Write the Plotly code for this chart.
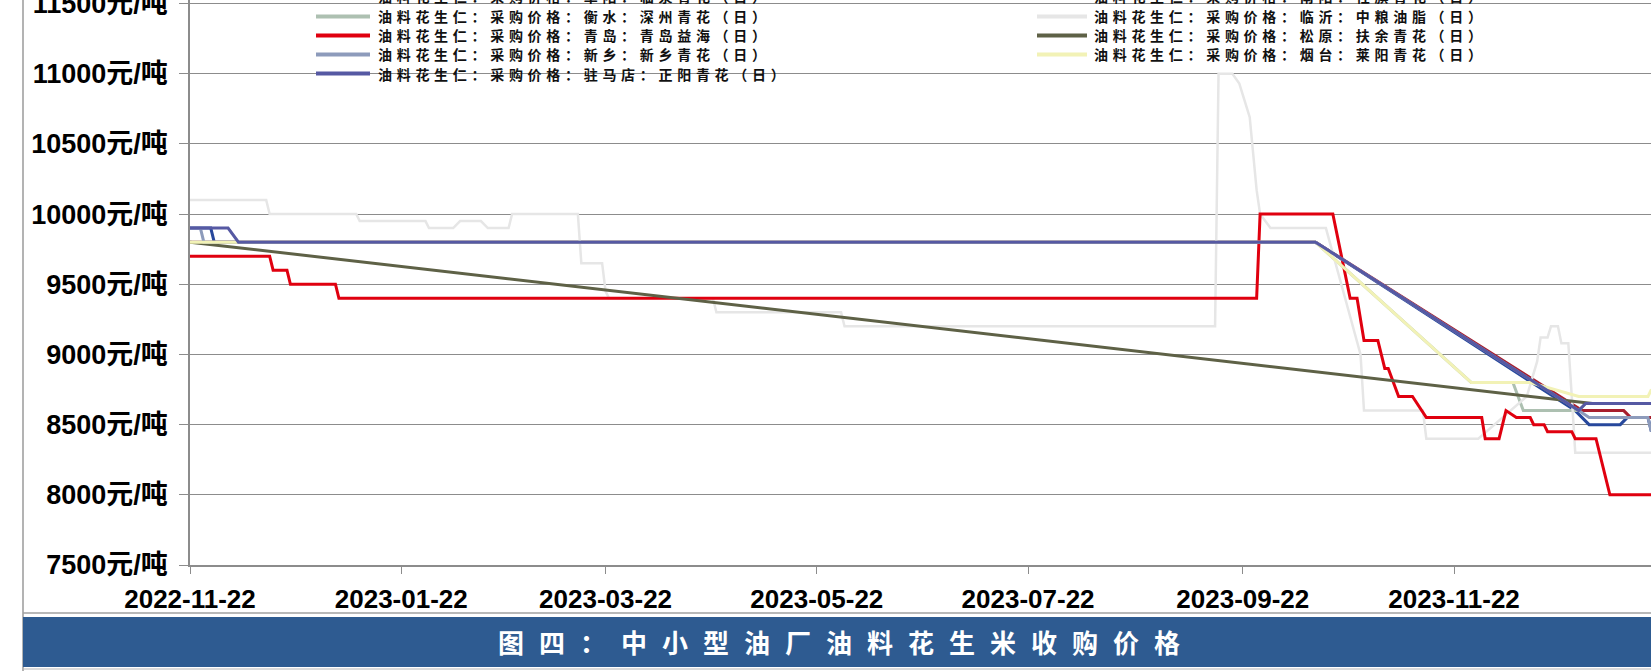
import plotly.graph_objects as go

# ---------------- data ----------------
x_tick_vals = ["2022-11-22", "2023-01-22", "2023-03-22", "2023-05-22",
               "2023-07-22", "2023-09-22", "2023-11-22"]
x_tick_labels = ["2022-11-22", "2023-01-22", "2023-03-22", "2023-05-22",
                 "2023-07-22", "2023-09-22", "2023-11-22"]
y_tick_vals = [7500, 8000, 8500, 9000, 9500, 10000, 10500, 11000, 11500]
y_tick_labels = ["7500元/吨", "8000元/吨", "8500元/吨", "9000元/吨", "9500元/吨",
                 "10000元/吨", "10500元/吨", "11000元/吨", "11500元/吨"]

title_text = "图四：中小型油厂油料花生米收购价格"

# series (legend order, row by row: left, right)
name_a = "油料花生仁：采购价格：阜阳：临泉青花（日）"
dates_a = ["2022-11-22", "2022-11-28", "2022-11-29", "2023-10-13", "2023-12-27",
           "2023-12-31", "2024-01-09", "2024-01-11", "2024-01-17", "2024-01-18"]
vals_a = [9900, 9900, 9800, 9800, 8600, 8500, 8500, 8550, 8550, 8450]

name_b = "油料花生仁：采购价格：南阳：社旗青花（日）"
dates_b = ["2022-11-22", "2023-10-13", "2023-12-29", "2024-01-10", "2024-01-12", "2024-01-18"]
vals_b = [9800, 9800, 8600, 8600, 8550, 8550]

name_hs = "油料花生仁：采购价格：衡水：深州青花（日）"
dates_hs = ["2022-11-22", "2023-10-13", "2023-11-27", "2023-12-09", "2023-12-12",
            "2023-12-28", "2023-12-30", "2024-01-18"]
vals_hs = [9800, 9800, 8800, 8800, 8600, 8600, 8650, 8650]

name_ly = "油料花生仁：采购价格：临沂：中粮油脂（日）"
dates_ly = ["2022-11-22", "2022-12-14", "2022-12-15", "2023-01-09", "2023-01-10",
            "2023-01-29", "2023-01-30", "2023-02-06", "2023-02-08", "2023-02-14",
            "2023-02-16", "2023-02-22", "2023-02-23", "2023-03-14", "2023-03-15",
            "2023-03-21", "2023-03-22", "2023-03-23", "2023-04-22", "2023-04-23",
            "2023-05-29", "2023-05-30", "2023-09-14", "2023-09-15", "2023-09-19",
            "2023-09-21", "2023-09-24", "2023-09-25", "2023-09-26", "2023-09-27",
            "2023-09-30", "2023-10-16", "2023-10-21", "2023-10-26", "2023-10-27",
            "2023-11-13", "2023-11-14", "2023-11-29", "2023-12-13", "2023-12-16",
            "2023-12-17", "2023-12-19", "2023-12-20", "2023-12-22", "2023-12-23",
            "2023-12-25", "2023-12-26", "2023-12-27", "2024-01-18"]
vals_ly = [10100, 10100, 10000, 10000, 9950,
           9950, 9900, 9900, 9950, 9950,
           9900, 9900, 10000, 10000, 9650,
           9650, 9450, 9400, 9400, 9300,
           9300, 9200, 9200, 11000, 11000,
           10930, 10690, 10450, 10170, 10000,
           9900, 9900, 9450, 9000, 8600,
           8600, 8400, 8400, 8700, 8950,
           9120, 9120, 9200, 9200, 9080,
           9080, 8700, 8300, 8300]

name_qd = "油料花生仁：采购价格：青岛：青岛益海（日）"
dates_qd = ["2022-11-22", "2022-12-15", "2022-12-16", "2022-12-20", "2022-12-21",
            "2023-01-03", "2023-01-04", "2023-09-26", "2023-09-27", "2023-10-18",
            "2023-10-23", "2023-10-25", "2023-10-27", "2023-10-31", "2023-11-02",
            "2023-11-03", "2023-11-06", "2023-11-10", "2023-11-14", "2023-11-30",
            "2023-12-01", "2023-12-05", "2023-12-07", "2023-12-10", "2023-12-14",
            "2023-12-15", "2023-12-18", "2023-12-19", "2023-12-26", "2023-12-27",
            "2024-01-02", "2024-01-06", "2024-01-18"]
vals_qd = [9700, 9700, 9600, 9600, 9500,
           9500, 9400, 9400, 10000, 10000,
           9400, 9400, 9100, 9100, 8900,
           8900, 8700, 8700, 8550, 8550,
           8400, 8400, 8600, 8550, 8550,
           8500, 8500, 8450, 8450, 8400,
           8400, 8000, 8000]

name_sy = "油料花生仁：采购价格：松原：扶余青花（日）"
dates_sy = ["2022-11-22", "2024-01-01"]
vals_sy = [9800, 8650]

name_xx = "油料花生仁：采购价格：新乡：新乡青花（日）"
dates_xx = ["2022-11-22", "2022-11-25", "2022-11-26", "2023-10-13", "2023-12-28",
            "2023-12-31", "2024-01-17", "2024-01-18"]
vals_xx = [9900, 9900, 9800, 9800, 8600, 8550, 8550, 8450]

name_yt = "油料花生仁：采购价格：烟台：莱阳青花（日）"
dates_yt = ["2022-11-22", "2023-10-13", "2023-11-27", "2023-12-14", "2023-12-28",
            "2024-01-17", "2024-01-18"]
vals_yt = [9800, 9800, 8800, 8800, 8700, 8700, 8750]

name_zmd = "油料花生仁：采购价格：驻马店：正阳青花（日）"
dates_zmd = ["2022-11-22", "2022-12-03", "2022-12-06", "2023-10-13", "2023-12-28",
             "2023-12-30", "2024-01-18"]
vals_zmd = [9900, 9900, 9800, 9800, 8600, 8650, 8650]

# ---------------- style ----------------
W, H = 1651, 671
L, T, PB = 190, 0, 565          # plot left, top, bottom (px)
PW, PH = W - L, PB - T


def px(x):
    return (x - L) / PW


def py(y):
    return (PB - y) / PH


series = [
    (name_a, dates_a, vals_a, "#27489c", 3),
    (name_b, dates_b, vals_b, "#a81e2d", 3),
    (name_hs, dates_hs, vals_hs, "#adc0b1", 3),
    (name_ly, dates_ly, vals_ly, "#e6e6e6", 2.5),
    (name_qd, dates_qd, vals_qd, "#e0000f", 3),
    (name_sy, dates_sy, vals_sy, "#5e6146", 3),
    (name_xx, dates_xx, vals_xx, "#8d9bbb", 3),
    (name_yt, dates_yt, vals_yt, "#f2f2b6", 3),
    (name_zmd, dates_zmd, vals_zmd, "#5659a3", 3),
]

fig = go.Figure()
for nm, d, v, c, w in series:
    fig.add_trace(go.Scatter(x=d, y=v, mode="lines", name=nm,
                             line=dict(color=c, width=w), showlegend=False))

xtick_font = dict(family="Liberation Sans, Arial, Noto Sans CJK SC", size=26,
                  color="#000000", weight="bold")
ytick_font = dict(family="Liberation Sans, Arial, Noto Sans CJK SC", size=27,
                  color="#000000", weight="bold")

fig.update_layout(
    width=W, height=H, autosize=False,
    margin=dict(l=L, r=0, t=T, b=H - PB, pad=0, autoexpand=False),
    paper_bgcolor="#ffffff", plot_bgcolor="#ffffff",
    xaxis=dict(range=["2022-11-22", "2024-01-17 21:00"], type="date",
               tickvals=x_tick_vals, ticktext=x_tick_labels,
               showgrid=False, zeroline=False, automargin=False,
               showline=True, linecolor="#8c8c8c", linewidth=1.5,
               ticks="outside", ticklen=7, tickcolor="#8c8c8c", tickwidth=1.2,
               tickfont=xtick_font, ticklabelstandoff=3,
               ticklabeloverflow="allow"),
    yaxis=dict(range=[7500, 11525], tickvals=y_tick_vals, ticktext=y_tick_labels,
               showgrid=True, gridcolor="#8c8c8c", gridwidth=1.4, zeroline=False,
               automargin=False,
               showline=True, linecolor="#8c8c8c", linewidth=1.5,
               ticks="outside", ticklen=9, tickcolor="#8c8c8c", tickwidth=1.2,
               tickfont=ytick_font, ticklabelstandoff=6,
               ticklabeloverflow="allow"),
)

shapes = []
annotations = []

# custom legend: 2 columns, row-wise order
rows_y = [-4.0, 16.5, 35.5, 54.5, 73.5]
cols = [(316, 370, 376), (1037, 1087, 1092)]
for i, (nm, d, v, c, w) in enumerate(series):
    r, cidx = divmod(i, 2)
    x0, x1, xt = cols[cidx]
    yy = rows_y[r]
    shapes.append(dict(type="line", xref="paper", yref="paper",
                       x0=px(x0), x1=px(x1), y0=py(yy), y1=py(yy),
                       line=dict(color=c, width=4)))
    annotations.append(dict(
        xref="paper", yref="paper", x=px(xt), y=py(yy),
        xanchor="left", yanchor="middle", showarrow=False,
        text='<span style="letter-spacing:4.7px">' + nm + "</span>",
        font=dict(family="Noto Sans CJK SC", size=14, color="#111111", weight="bold")))

# frame + banner
shapes.append(dict(type="line", xref="paper", yref="paper",
                   x0=px(23), x1=px(23), y0=py(0), y1=py(H),
                   line=dict(color="#9a9a9a", width=1.5)))
shapes.append(dict(type="line", xref="paper", yref="paper",
                   x0=px(23), x1=px(W), y0=py(613), y1=py(613),
                   line=dict(color="#a0a0a0", width=1.5)))
shapes.append(dict(type="rect", xref="paper", yref="paper",
                   x0=px(23), x1=px(W + 2), y0=py(617), y1=py(667),
                   fillcolor="#2e5b91", line=dict(width=0)))
shapes.append(dict(type="line", xref="paper", yref="paper",
                   x0=px(23), x1=px(W), y0=py(669), y1=py(669),
                   line=dict(color="#b5b5b5", width=1.2)))
annotations.append(dict(
    xref="paper", yref="paper", x=px(846), y=py(641),
    xanchor="center", yanchor="middle", showarrow=False,
    text='<span style="letter-spacing:15px">' + title_text + "</span>",
    font=dict(family="Noto Sans CJK SC", size=26, color="#ffffff", weight="bold")))

fig.update_layout(shapes=shapes, annotations=annotations)

fig.write_html("out.html", config={"displayModeBar": False},
               post_script="document.body.style.margin='0';document.body.style.overflow='hidden';")
